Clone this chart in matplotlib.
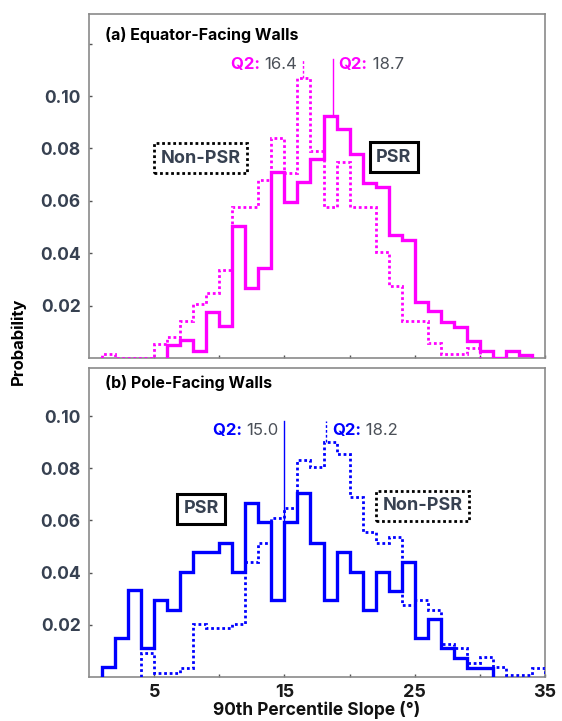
import numpy as np
import matplotlib
matplotlib.use("Agg")
import matplotlib.pyplot as plt

plt.rcParams['font.family'] = ['Inter', 'DejaVu Sans']

# ---------------- data ----------------
# (a) Equator-facing walls, 1-degree bins
eq_psr_start = 6
eq_psr = [0.0050, 0.0068, 0.0027, 0.0177, 0.0122, 0.0505, 0.0269, 0.0342,
          0.0709, 0.0597, 0.0670, 0.0760, 0.0925, 0.0874, 0.0779, 0.0667,
          0.0651, 0.0470, 0.0450, 0.0212, 0.0180, 0.0138, 0.0120, 0.0065,
          0.0027, 0.0000, 0.0027, 0.0010]
eq_non_start = 1
eq_non = [0.0014, 0.0000, 0.0000, 0.0000, 0.0055, 0.0080, 0.0141, 0.0205,
          0.0250, 0.0337, 0.0577, 0.0577, 0.0680, 0.0840, 0.0705, 0.1070,
          0.0790, 0.0577, 0.0747, 0.0577, 0.0577, 0.0405, 0.0275, 0.0141,
          0.0141, 0.0059, 0.0017, 0.0017, 0.0037]
eq_q2_non = 16.4
eq_q2_psr = 18.7

# (b) Pole-facing walls
po_psr_start = 1
po_psr = [0.0038, 0.0148, 0.0333, 0.0112, 0.0295, 0.0257, 0.0404, 0.0480,
          0.0480, 0.0515, 0.0404, 0.0665, 0.0595, 0.0295, 0.0595, 0.0704,
          0.0515, 0.0295, 0.0480, 0.0404, 0.0257, 0.0404, 0.0331, 0.0442,
          0.0148, 0.0222, 0.0112, 0.0074, 0.0036, 0.0036]
po_non_start = 4
po_non = [0.0093, 0.0014, 0.0014, 0.0036, 0.0203, 0.0186, 0.0186, 0.0203,
          0.0442, 0.0515, 0.0608, 0.0648, 0.0831, 0.0806, 0.0902, 0.0855,
          0.0688, 0.0554, 0.0515, 0.0538, 0.0276, 0.0295, 0.0257, 0.0126,
          0.0112, 0.0055, 0.0075, 0.0038, 0.0008, 0.0008, 0.0036]
po_q2_psr = 15.0
po_q2_non = 18.2

x_ticks = [5, 10, 15, 20, 25, 30, 35]
x_ticklabels = ['5', '', '15', '', '25', '', '35']
y_ticks_a = [0.02, 0.04, 0.06, 0.08, 0.10, 0.12]
y_ticklabels_a = ['0.02', '0.04', '0.06', '0.08', '0.10', '']
y_ticks_b = [0.02, 0.04, 0.06, 0.08, 0.10]
y_ticklabels_b = ['0.02', '0.04', '0.06', '0.08', '0.10']

MAGENTA = '#FF00FF'
BLUE = '#0000FF'
SLATE = '#374151'
NUMGRAY = '#4b5058'
DOT = (0, (1, 1))

W, H = 562, 721
fig = plt.figure(figsize=(W / 100, H / 100), dpi=100)
L, R = 89, 545
ax1 = fig.add_axes([L / W, 1 - 358 / H, (R - L) / W, 344 / H])
ax2 = fig.add_axes([L / W, 1 - 677 / H, (R - L) / W, 309 / H])


def edges(start, vals):
    return np.arange(start, start + len(vals) + 1)


def value_at(start, vals, x):
    i = int(np.floor(x)) - start
    v = vals[i]
    if abs(x - round(x)) < 1e-6 and i - 1 >= 0:
        v = max(v, vals[i - 1])
    return v


def style_axes(ax, ylim, yt, ytl, show_x):
    ax.set_xlim(0, 35)
    ax.set_ylim(0, ylim)
    for s in ax.spines.values():
        s.set_color('#8a8a8a')
        s.set_linewidth(1.2)
    ax.set_xticks(x_ticks)
    ax.set_xticklabels(x_ticklabels if show_x else [''] * len(x_ticks))
    ax.set_yticks(yt)
    ax.set_yticklabels(ytl)
    ax.tick_params(axis='both', direction='in', length=2.5, width=1,
                   color='#555555')
    ax.tick_params(axis='y', pad=6, labelsize=12.5, labelcolor=SLATE)
    ax.tick_params(axis='x', pad=5, labelsize=13, labelcolor='#1a1a1a')
    for lab in ax.get_yticklabels() + ax.get_xticklabels():
        lab.set_fontweight('bold')


def q2_label(ax, x, y, val, color, side):
    off = 6
    if side == 'right':
        t1 = ax.annotate('Q2:', xy=(x, y), xytext=(off, 0),
                         textcoords='offset pixels', ha='left', va='center',
                         fontsize=12, fontweight='bold', color=color)
        ax.annotate(' ' + f'{val:.1f}', xy=(1, 0), xycoords=t1,
                    ha='left', va='bottom', fontsize=12, color=NUMGRAY)
    else:
        t2 = ax.annotate(f'{val:.1f}', xy=(x, y), xytext=(-off, 0),
                         textcoords='offset pixels', ha='right', va='center',
                         fontsize=12, color=NUMGRAY)
        ax.annotate('Q2: ', xy=(0, 0), xycoords=t2,
                    ha='right', va='bottom', fontsize=12, fontweight='bold',
                    color=color)


def box(ax, x, y, txt, dotted):
    ax.text(x, y, txt, ha='center', va='center', fontsize=13,
            fontweight='bold', color=SLATE, zorder=6,
            bbox=dict(boxstyle='square,pad=0.35', fc='white', ec='black',
                      lw=2.0 if dotted else 2.2,
                      ls=DOT if dotted else '-'))


# ---------------- panel (a) ----------------
ax1.stairs(eq_non, edges(eq_non_start, eq_non), color=MAGENTA, lw=2.0,
           ls=DOT, baseline=0, zorder=3)
ax1.stairs(eq_psr, edges(eq_psr_start, eq_psr), color=MAGENTA, lw=2.4,
           baseline=0, zorder=4)
ytop_a = 0.1140
ax1.plot([eq_q2_non, eq_q2_non],
         [value_at(eq_non_start, eq_non, eq_q2_non), ytop_a],
         color=MAGENTA, lw=1.0, ls=(0, (2, 1.5)), zorder=4)
ax1.plot([eq_q2_psr, eq_q2_psr],
         [value_at(eq_psr_start, eq_psr, eq_q2_psr), ytop_a],
         color=MAGENTA, lw=1.0, zorder=4)
q2_label(ax1, eq_q2_non, 0.1122, eq_q2_non, MAGENTA, 'left')
q2_label(ax1, eq_q2_psr, 0.1122, eq_q2_psr, MAGENTA, 'right')
box(ax1, 8.55, 0.0763, 'Non-PSR', True)
box(ax1, 23.4, 0.0767, 'PSR', False)
ax1.annotate('(a) Equator-Facing Walls', xy=(0, 1), xycoords='axes fraction',
             xytext=(16, -21), textcoords='offset pixels', ha='left',
             va='center', fontsize=11.5, fontweight='bold', color='black')
style_axes(ax1, 0.1313, y_ticks_a, y_ticklabels_a, False)

# ---------------- panel (b) ----------------
ax2.stairs(po_non, edges(po_non_start, po_non), color=BLUE, lw=2.0,
           ls=DOT, baseline=0, zorder=3)
ax2.stairs(po_psr, edges(po_psr_start, po_psr), color=BLUE, lw=2.4,
           baseline=0, zorder=4)
ytop_b = 0.0980
ax2.plot([po_q2_psr, po_q2_psr],
         [value_at(po_psr_start, po_psr, po_q2_psr), ytop_b],
         color=BLUE, lw=1.0, zorder=4)
ax2.plot([po_q2_non, po_q2_non],
         [value_at(po_non_start, po_non, po_q2_non), ytop_b],
         color=BLUE, lw=1.0, ls=(0, (2, 1.5)), zorder=4)
q2_label(ax2, po_q2_psr, 0.0946, po_q2_psr, BLUE, 'left')
q2_label(ax2, po_q2_non, 0.0946, po_q2_non, BLUE, 'right')
box(ax2, 8.6, 0.0644, 'PSR', False)
box(ax2, 25.6, 0.0656, 'Non-PSR', True)
ax2.annotate('(b) Pole-Facing Walls', xy=(0, 1), xycoords='axes fraction',
             xytext=(16, -15), textcoords='offset pixels', ha='left',
             va='center', fontsize=11.5, fontweight='bold', color='black')
style_axes(ax2, 0.1184, y_ticks_b, y_ticklabels_b, True)

fig.text(18.5 / W, 1 - 341 / H, 'Probability', rotation=90, ha='center',
         va='center', fontsize=12, fontweight='bold', color='black')
fig.text((L + R) / 2 / W, 1 - 710 / H, '90th Percentile Slope (°)',
         ha='center', va='center', fontsize=12.5, fontweight='bold',
         color='#111111')

fig.savefig('out.png', dpi=100)
